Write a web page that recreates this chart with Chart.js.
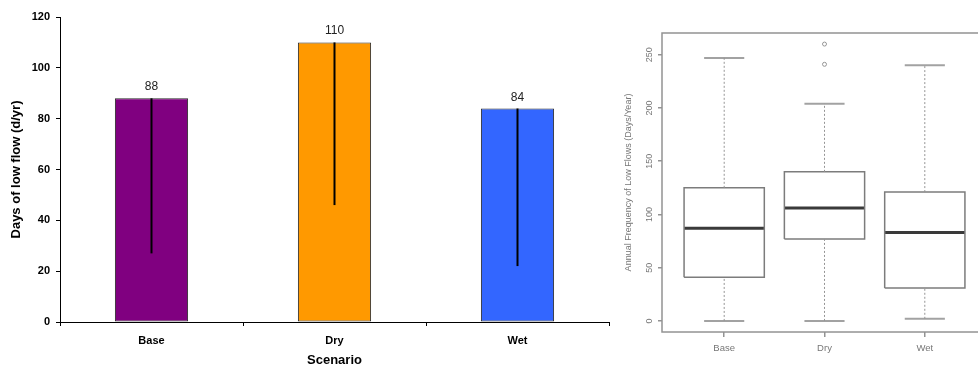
<!DOCTYPE html>
<html>
<head>
<meta charset="utf-8">
<script src="https://cdn.jsdelivr.net/npm/chart.js@4"></script>
<style>
  html, body { margin: 0; padding: 0; background: #fff; }
  #wrap { position: relative; width: 978px; height: 368px; overflow: hidden; }
  #left { position: absolute; left: 0; top: 0; }
  #rightBox { position: absolute; left: 612px; top: 0; width: 366px; height: 368px; overflow: hidden; }
  #right { filter: blur(0.4px); }
</style>
</head>
<body>
<div id="wrap">
  <canvas id="left" width="612" height="368"></canvas>
  <div id="rightBox"><canvas id="right" width="380" height="368"></canvas></div>
</div>
<script>
// Scenario names shared by both panels
const scenarios = ['Base', 'Dry', 'Wet'];

// Mean annual days of low flow, and the low end of each range line
const meanDays = [88, 110, 84];
const lowDays = [27, 46, 22];
const barColors = ['#800080', '#FF9900', '#3366FF'];
const dayTicks = [0, 20, 40, 60, 80, 100, 120];

// Box-plot summaries: annual frequency of low flows (days/year)
const whiskerLow = [0, 0, 2];
const quart1 = [41, 77, 31];
const medians = [87, 106, 83];
const quart3 = [125, 140, 121];
const whiskerHigh = [247, 204, 240];
const outlierX = [2, 2];
const outlierY = [241, 260];
const freqTicks = [0, 50, 100, 150, 200, 250];

const FONT = '"Liberation Sans", Arial, Helvetica, sans-serif';

// ---------- Left panel: bars with range lines and value labels ----------
const barExtras = {
  id: 'barExtras',
  afterDatasetsDraw(chart) {
    const ctx = chart.ctx;
    const yScale = chart.scales.y;
    const bars = chart.getDatasetMeta(0).data;
    ctx.save();
    ctx.strokeStyle = '#000';
    ctx.lineWidth = 2;
    bars.forEach((bar, i) => {
      ctx.beginPath();
      ctx.moveTo(bar.x, bar.y);
      ctx.lineTo(bar.x, yScale.getPixelForValue(lowDays[i]));
      ctx.stroke();
    });
    ctx.fillStyle = '#222';
    ctx.font = '12px ' + FONT;
    ctx.textAlign = 'center';
    ctx.textBaseline = 'alphabetic';
    bars.forEach((bar, i) => ctx.fillText(String(meanDays[i]), bar.x, bar.y - 8));
    ctx.restore();
  }
};

new Chart(document.getElementById('left'), {
  type: 'bar',
  data: {
    labels: scenarios,
    datasets: [{
      data: meanDays,
      backgroundColor: barColors,
      borderColor: '#2a2a2a',
      borderWidth: 1,
      borderSkipped: false,
      barPercentage: 0.4,
      categoryPercentage: 1
    }]
  },
  options: {
    responsive: false,
    animation: false,
    devicePixelRatio: 1,
    layout: { padding: { top: 17, right: 3, left: 0, bottom: 0 } },
    plugins: { legend: { display: false }, tooltip: { enabled: false } },
    scales: {
      x: {
        offset: true,
        grid: { drawOnChartArea: false, tickLength: 4, color: '#000', offset: true },
        border: { color: '#000', width: 1 },
        ticks: { color: '#000', font: { family: FONT, size: 11, weight: 'bold' }, padding: 8 },
        title: {
          display: true, text: 'Scenario', color: '#000',
          font: { family: FONT, size: 13, weight: 'bold' },
          padding: { top: 0, bottom: 0 }
        },
        afterFit(s) { s.height = 46; }
      },
      y: {
        min: 0,
        max: 120,
        afterBuildTicks(s) { s.ticks = dayTicks.map(v => ({ value: v })); },
        grid: { drawOnChartArea: false, tickLength: 4, color: '#000' },
        border: { color: '#000', width: 1 },
        ticks: { color: '#000', font: { family: FONT, size: 11, weight: 'bold' }, padding: 6 },
        title: {
          display: true, text: 'Days of low flow (d/yr)', color: '#000',
          font: { family: FONT, size: 13, weight: 'bold' },
          padding: { top: 9, bottom: 0 }
        },
        afterFit(s) { s.width = 60; }
      }
    }
  },
  plugins: [barExtras]
});

// ---------- Right panel: box plots ----------
const BOX_HALF = 0.4;
const CAP_HALF = 0.2;
const GAP = (x) => ({ x: x, y: null });

function segments(list) {
  const pts = [];
  list.forEach(seg => { pts.push(...seg, GAP(seg[0].x)); });
  return pts;
}

const whiskerPts = segments(scenarios.flatMap((_, i) => [
  [{ x: i + 1, y: quart3[i] }, { x: i + 1, y: whiskerHigh[i] }],
  [{ x: i + 1, y: whiskerLow[i] }, { x: i + 1, y: quart1[i] }]
]));
const capPts = segments(scenarios.flatMap((_, i) => [
  [{ x: i + 1 - CAP_HALF, y: whiskerHigh[i] }, { x: i + 1 + CAP_HALF, y: whiskerHigh[i] }],
  [{ x: i + 1 - CAP_HALF, y: whiskerLow[i] }, { x: i + 1 + CAP_HALF, y: whiskerLow[i] }]
]));
const boxPts = segments(scenarios.map((_, i) => [
  { x: i + 1 - BOX_HALF, y: quart1[i] },
  { x: i + 1 + BOX_HALF, y: quart1[i] },
  { x: i + 1 + BOX_HALF, y: quart3[i] },
  { x: i + 1 - BOX_HALF, y: quart3[i] },
  { x: i + 1 - BOX_HALF, y: quart1[i] }
]));
const medianPts = segments(scenarios.map((_, i) => [
  { x: i + 1 - BOX_HALF, y: medians[i] }, { x: i + 1 + BOX_HALF, y: medians[i] }
]));
const outlierPts = outlierX.map((x, i) => ({ x: x, y: outlierY[i] }));

const plotFrame = {
  id: 'plotFrame',
  afterDraw(chart) {
    const a = chart.chartArea;
    const ctx = chart.ctx;
    ctx.save();
    ctx.strokeStyle = '#939393';
    ctx.lineWidth = 1.5;
    ctx.strokeRect(a.left, a.top, a.right - a.left, a.bottom - a.top);
    ctx.restore();
  }
};

const lineSet = (data, color, width, dash) => ({
  type: 'scatter', data, showLine: true, spanGaps: false, fill: false,
  borderColor: color, borderWidth: width, borderDash: dash || [],
  borderJoinStyle: 'miter', pointRadius: 0, pointHoverRadius: 0
});

new Chart(document.getElementById('right'), {
  type: 'scatter',
  data: {
    datasets: [
      lineSet(whiskerPts, '#959595', 1, [2, 2]),
      lineSet(capPts, '#a2a2a2', 2),
      lineSet(boxPts, '#7c7c7c', 1.5),
      lineSet(medianPts, '#3a3a3a', 3),
      {
        type: 'scatter', data: outlierPts, showLine: false,
        pointRadius: 2, pointStyle: 'circle',
        borderColor: '#959595', borderWidth: 1, backgroundColor: 'rgba(0,0,0,0)'
      }
    ]
  },
  options: {
    responsive: false,
    animation: false,
    devicePixelRatio: 1,
    layout: { padding: { top: 33, right: 2, left: 0, bottom: 0 } },
    plugins: { legend: { display: false }, tooltip: { enabled: false } },
    scales: {
      x: {
        type: 'linear',
        min: 0.38,
        max: 3.62,
        afterBuildTicks(s) { s.ticks = scenarios.map((_, i) => ({ value: i + 1 })); },
        grid: { drawOnChartArea: false, tickLength: 5, color: '#939393', lineWidth: 1.5 },
        border: { display: false },
        ticks: {
          color: '#777', font: { family: FONT, size: 9.5 }, padding: 6,
          maxRotation: 0, autoSkip: false,
          callback: (v) => scenarios[Math.round(v) - 1]
        },
        afterFit(s) { s.height = 36; }
      },
      y: {
        min: -10.4,
        max: 270.4,
        afterBuildTicks(s) { s.ticks = freqTicks.map(v => ({ value: v })); },
        grid: { drawOnChartArea: false, tickLength: 4, color: '#939393', lineWidth: 1.5 },
        border: { display: false },
        ticks: {
          color: '#777', font: { family: FONT, size: 9 }, padding: 1,
          minRotation: 90, maxRotation: 90, crossAlign: 'center', autoSkip: false
        },
        title: {
          display: true, text: 'Annual Frequency of Low Flows (Days/Year)', color: '#777',
          font: { family: FONT, size: 9 },
          padding: { top: 11, bottom: 0 }
        },
        afterFit(s) { s.width = 50; }
      }
    }
  },
  plugins: [plotFrame]
});
</script>
</body>
</html>
